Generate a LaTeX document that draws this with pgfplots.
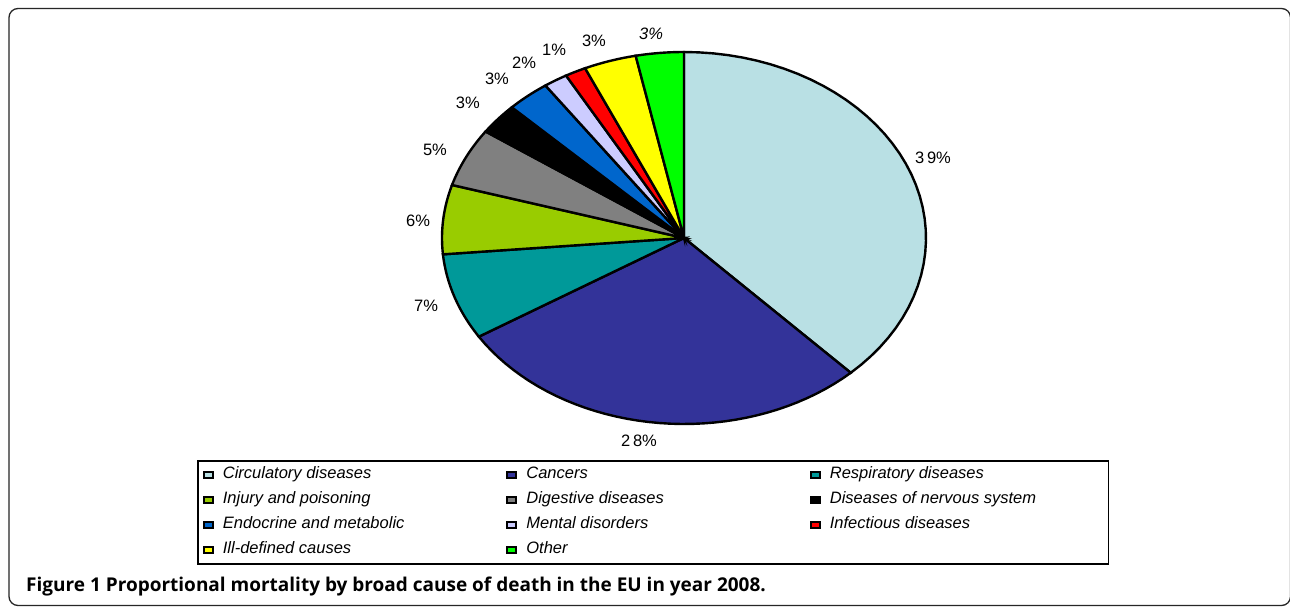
\documentclass[border=0pt]{standalone}
\usepackage{pgfplots}
\pgfplotsset{compat=1.18}
\usepackage{fontspec}
\setmainfont{Liberation Sans}
\newfontfamily\capfont{Open Sans}
\definecolor{cCirc}{RGB}{185,224,228}
\definecolor{cCanc}{RGB}{51,51,153}
\definecolor{cResp}{RGB}{0,153,153}
\definecolor{cInj}{RGB}{153,204,0}
\definecolor{cDig}{RGB}{128,128,128}
\definecolor{cNerv}{RGB}{0,0,0}
\definecolor{cEndo}{RGB}{0,102,204}
\definecolor{cMent}{RGB}{204,204,255}
\definecolor{cInf}{RGB}{255,0,0}
\definecolor{cIll}{RGB}{255,255,0}
\definecolor{cOth}{RGB}{0,255,0}
\def\cum{0}
\newcommand\slice[3]{% share (percent), colour, legend text
  \pgfmathsetmacro\pa{90-3.6*\cum}%
  \pgfmathsetmacro\newcum{\cum+#1}%
  \pgfmathsetmacro\pb{90-3.6*\newcum}%
  \global\let\cum\newcum
  \edef\temp{\noexpand\addplot[fill=#2, draw=black, line width=2.4pt, line join=miter, domain=\pa:\pb, samples=40, variable=\noexpand\t] ({cos(\noexpand\t)},{sin(\noexpand\t)}) -- (axis cs:0,0) -- cycle;}%
  \temp
  \addlegendentry{#3}%
}
\newcommand\LA[1]{\makebox[280.5pt][l]{#1}}
\newcommand\LC[1]{\makebox[270.5pt][l]{#1}}
\begin{document}
\begin{tikzpicture}
\useasboundingbox (0,0) rectangle (1290pt,606pt);
\fill[white] (0,0) rectangle (1290pt,606pt);
\draw[line width=1.3pt, black!85, rounded corners=9pt] (9pt,0.5pt) rectangle (1290.5pt,597.5pt);
\begin{axis}[
  at={(684pt,368pt)}, anchor=center,
  scale only axis, width=484pt, height=372pt,
  xmin=-1, xmax=1, ymin=-1, ymax=1,
  hide axis, clip=false,
  legend columns=3,
  legend image code/.code={\draw[#1, line width=2pt] (0pt,-3pt) rectangle (9pt,3pt);},
  legend style={at={(axis description cs:-0.506,-0.0968)}, anchor=north west,
    draw=black, line width=1.5pt, inner xsep=5pt, inner ysep=3pt,
    font=\fontsize{16.5}{19}\selectfont\itshape,
    nodes={inner sep=3pt, text height=12pt, text depth=4pt},
    row sep=3pt,
    /tikz/every odd column/.append style={column sep=6pt},
    cells={anchor=west}},
]
\slice{37.9}{cCirc}{\LA{Circulatory diseases}}
\slice{28.2}{cCanc}{\LA{Cancers}}
\slice{7.5}{cResp}{\LC{Respiratory diseases}}
\slice{6.0}{cInj}{\LA{Injury and poisoning}}
\slice{5.1}{cDig}{\LA{Digestive diseases}}
\slice{2.7}{cNerv}{\LC{Diseases of nervous system}}
\slice{2.9}{cEndo}{\LA{Endocrine and metabolic}}
\slice{1.6}{cMent}{\LA{Mental disorders}}
\slice{1.4}{cInf}{\LC{Infectious diseases}}
\slice{3.5}{cIll}{\LA{Ill-defined causes}}
\slice{3.2}{cOth}{\LA{Other}}
\begin{scope}[font=\fontsize{16.5}{19}\selectfont]
\node at (axis cs:1.029,0.430) {3\,9\%};
\node at (axis cs:-0.186,-1.091) {2\,8\%};
\node at (axis cs:-1.066,-0.366) {7\%};
\node at (axis cs:-1.099,0.091) {6\%};
\node at (axis cs:-1.029,0.473) {5\%};
\node at (axis cs:-0.893,0.726) {3\%};
\node at (axis cs:-0.773,0.855) {3\%};
\node at (axis cs:-0.661,0.941) {2\%};
\node at (axis cs:-0.537,1.011) {1\%};
\node at (axis cs:-0.372,1.059) {3\%};
\node at (axis cs:-0.136,1.097) {\textit{3\%}};
\end{scope}
\end{axis}
\node[anchor=west, inner sep=0pt, font=\capfont\bfseries\fontsize{19}{22}\selectfont] at (26pt,19pt) {Figure 1 Proportional mortality by broad cause of death in the EU in year 2008.};
\end{tikzpicture}
\end{document}
